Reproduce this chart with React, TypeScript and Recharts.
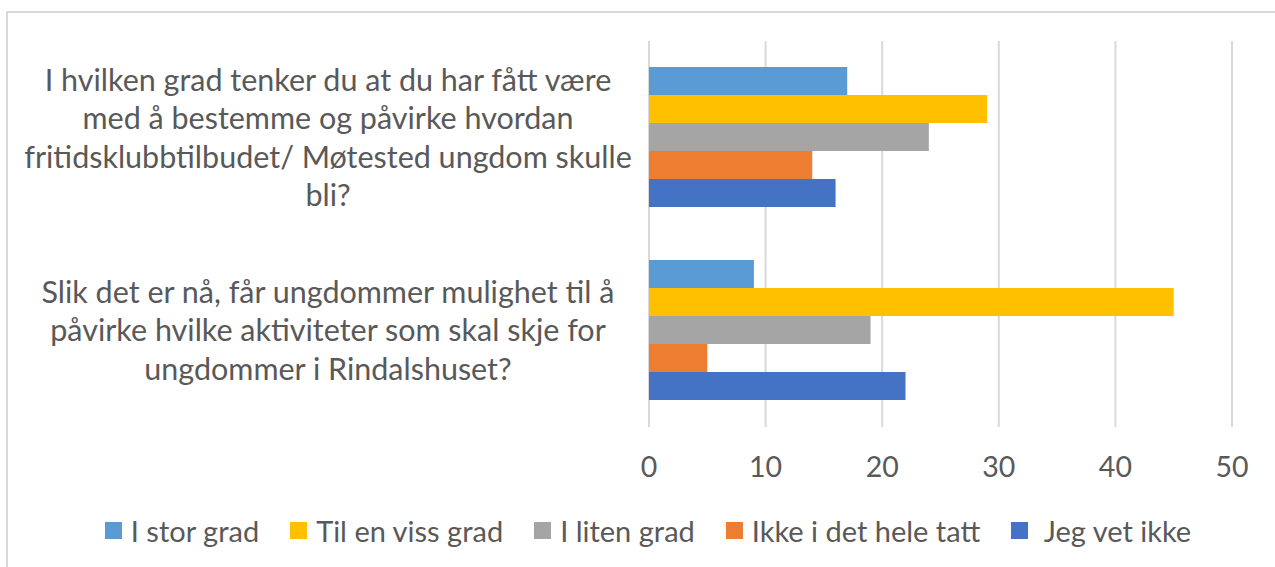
import React from 'react';
import { BarChart, Bar, XAxis, YAxis, CartesianGrid, Legend } from 'recharts';

const categories = [
  'I hvilken grad tenker du at du har fått være med å bestemme og påvirke hvordan fritidsklubbtilbudet/ Møtested ungdom skulle bli?',
  'Slik det er nå, får ungdommer mulighet til å påvirke hvilke aktiviteter som skal skje for ungdommer i Rindalshuset?',
];
const categoryLines = [
  [
    'I hvilken grad tenker du at du har fått være',
    'med å bestemme og påvirke hvordan',
    'fritidsklubbtilbudet/ Møtested ungdom skulle',
    'bli?',
  ],
  [
    'Slik det er nå, får ungdommer mulighet til å',
    'påvirke hvilke aktiviteter som skal skje for',
    'ungdommer i Rindalshuset?',
  ],
];

const seriesKeys = ['stor', 'viss', 'liten', 'ikke', 'vetIkke'];
const seriesNames = ['I stor grad', 'Til en viss grad', 'I liten grad', 'Ikke i det hele tatt', ' Jeg vet ikke'];
const seriesColors = ['#5B9BD5', '#FFC000', '#A5A5A5', '#ED7D31', '#4472C4'];

const storGrad = [17, 9];
const vissGrad = [29, 45];
const litenGrad = [24, 19];
const ikkeGrad = [14, 5];
const vetIkke = [16, 22];

const xTicks = [0, 10, 20, 30, 40, 50];

const seriesValues = [storGrad, vissGrad, litenGrad, ikkeGrad, vetIkke];
const data = categories.map((c, i) => {
  const row: any = { category: c };
  seriesKeys.forEach((k, j) => {
    row[k] = seriesValues[j][i];
  });
  return row;
});

const FONT = "Lato, 'Noto Sans', sans-serif";
const TEXT = '#595959';
const GRID = '#D9D9D9';

const CategoryTick = (props: any) => {
  const { x, y, payload } = props;
  const idx = categories.indexOf(payload.value);
  const lines = idx >= 0 ? categoryLines[idx] : [String(payload.value)];
  const lh = 38.5;
  const cx = x - 321;
  const startY = y - ((lines.length - 1) * lh) / 2;
  return (
    <text x={cx} y={startY} textAnchor="middle" fill={TEXT} fontSize={30.5} fontFamily={FONT}>
      {lines.map((l, i) => (
        <tspan key={i} x={cx} y={startY + i * lh} dy="0.36em">
          {l}
        </tspan>
      ))}
    </text>
  );
};

const LegendContent = () => (
  <div
    style={{
      display: 'flex',
      justifyContent: 'center',
      alignItems: 'center',
      fontFamily: FONT,
      fontSize: 29,
      color: TEXT,
      whiteSpace: 'pre',
    }}
  >
    {seriesNames.map((n, i) => (
      <div key={i} style={{ display: 'flex', alignItems: 'center', marginRight: i < seriesNames.length - 1 ? 31 : 0 }}>
        <span style={{ display: 'inline-block', width: 17, height: 17, background: seriesColors[i], marginRight: 9 }} />
        <span>{n}</span>
      </div>
    ))}
  </div>
);

export default function App() {
  return (
    <div
      style={{
        position: 'fixed',
        left: 0,
        top: 0,
        width: 1275,
        height: 567,
        overflow: 'hidden',
        background: '#fff',
      }}
    >
      <div
        style={{
          position: 'absolute',
          left: 6,
          top: 11,
          width: 1320,
          height: 620,
          border: `2px solid ${GRID}`,
        }}
      />
      <div style={{ position: 'absolute', left: 0, top: 0 }}>
        <BarChart
          width={1275}
          height={567}
          data={data}
          layout="vertical"
          margin={{ top: 41, right: 43, bottom: 0, left: 0 }}
          barCategoryGap={26}
          barGap={0}
        >
          <CartesianGrid horizontal={false} vertical={true} stroke={GRID} strokeWidth={2} />
          <XAxis
            type="number"
            domain={[0, 50]}
            ticks={xTicks}
            interval={0}
            axisLine={false}
            tickLine={false}
            tickSize={0}
            tickMargin={30}
            height={140}
            tick={{ fill: TEXT, fontSize: 28.5, fontFamily: FONT }}
          />
          <YAxis
            type="category"
            dataKey="category"
            width={649}
            axisLine={false}
            tickLine={false}
            tickSize={0}
            tickMargin={0}
            tick={<CategoryTick />}
          />
          <Legend
            layout="horizontal"
            verticalAlign="middle"
            align="center"
            wrapperStyle={{ top: 513, left: 0, width: 1296 }}
            content={<LegendContent />}
          />
          {seriesKeys.map((k, i) => (
            <Bar key={k} dataKey={k} name={seriesNames[i]} fill={seriesColors[i]} isAnimationActive={false} />
          ))}
        </BarChart>
      </div>
    </div>
  );
}
